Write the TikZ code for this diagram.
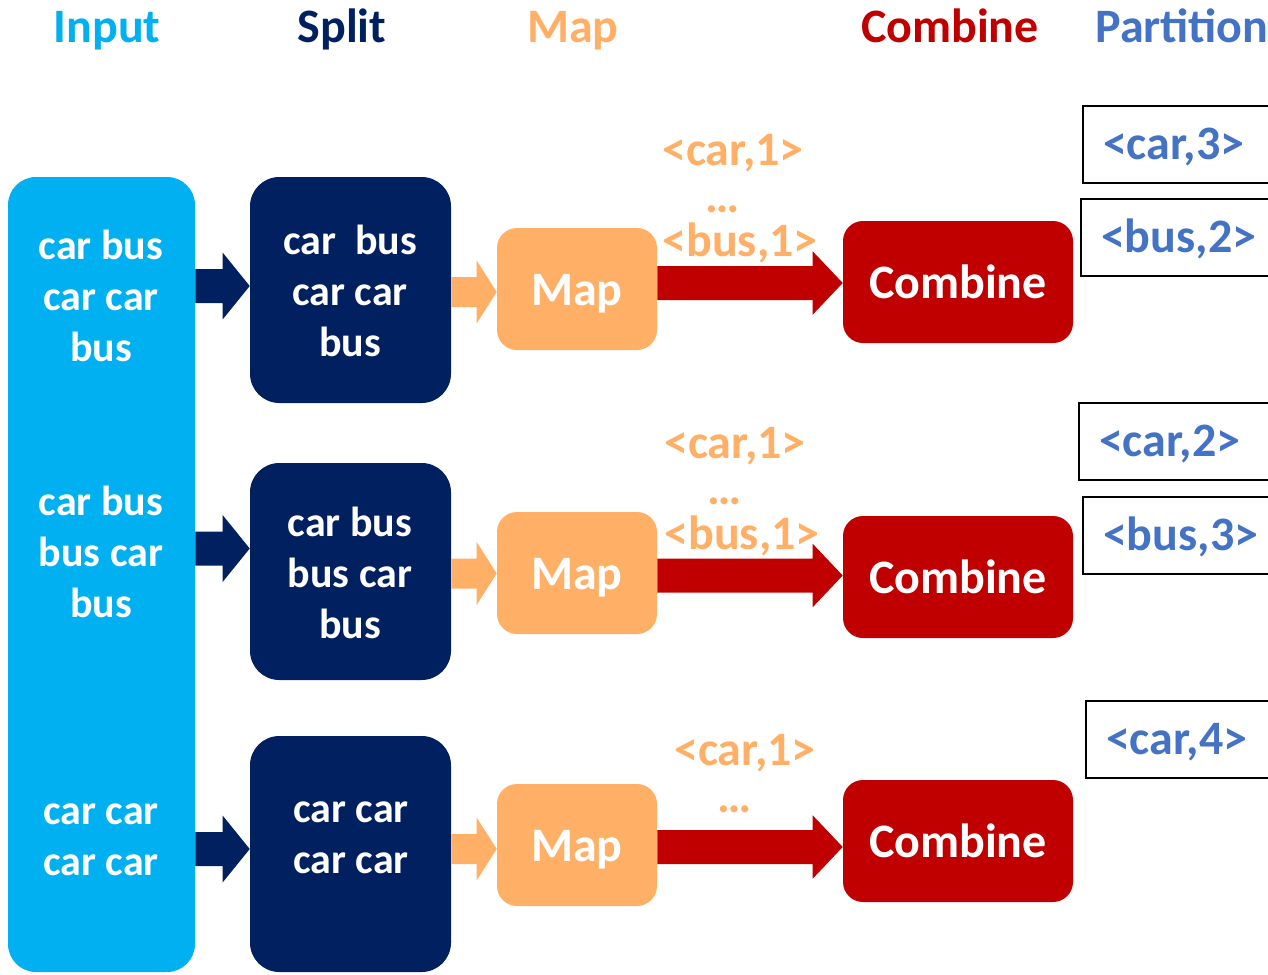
\documentclass[tikz,border=0pt]{standalone}
\usepackage{fontspec}
\setmainfont{Carlito}
\usetikzlibrary{calc}

\definecolor{inputblue}{HTML}{00B0F0}
\definecolor{splitnavy}{HTML}{002060}
\definecolor{maporange}{HTML}{FFB066}
\definecolor{combinered}{HTML}{C00000}
\definecolor{partblue}{HTML}{4472C4}

% block arrow: colour, start point, end point, shaft half width, head half width, head length
\newcommand{\blockarrow}[6]{%
  \fill[#1] let \p1=(#2), \p2=(#3) in
    (\x1,\y1+#4) -- (\x2-#6,\y1+#4) -- (\x2-#6,\y1+#5) -- (\x2,\y1)
    -- (\x2-#6,\y1-#5) -- (\x2-#6,\y1-#4) -- (\x1,\y1-#4) -- cycle;}

\begin{document}
\begin{tikzpicture}[x=0.75pt,y=-0.75pt,
  big/.style={font=\bfseries\fontsize{36}{43}\selectfont},
  small/.style={font=\bfseries\fontsize{31.5}{38.25}\selectfont, align=center, text=white},
  header/.style={big, anchor=base, inner sep=0},
  pair/.style={big, anchor=base, inner sep=0, text=maporange},
  inbox/.style={fill=inputblue, rounded corners=21pt, inner sep=0,
    minimum width=140.25pt},
  splitbox/.style={fill=splitnavy, rounded corners=22pt, inner sep=0,
    minimum width=150.75pt},
  mapbox/.style={fill=maporange, rounded corners=15pt, big, text=white,
    inner sep=0, minimum width=120pt, text height=57.75pt, text depth=33.75pt},
  combox/.style={fill=combinered, rounded corners=15pt, big, text=white,
    inner sep=0, minimum width=172.5pt, text height=57.75pt, text depth=33.75pt},
  pbox/.style={draw=black, line width=1.5pt, anchor=north west, big, text=partblue,
    inner xsep=15pt, inner ysep=0pt, text width=210pt, align=left,
    text height=39.75pt, text depth=18pt}
]
\useasboundingbox (0,0) rectangle (1268,975);
\clip (0,0) rectangle (1268,975);

% column headers
\node[header, text=inputblue]  (hin)  at (107,42)  {Input};
\node[header, text=splitnavy]  (hsp)  at (342,42)  {Split};
\node[header, text=maporange]  (hmap) at (573,42)  {Map};
\node[header, text=combinered] (hcom) at (950,42)  {Combine};
\node[header, text=partblue]   (hpar) at (1182,42) {Partition};

% input column
\node[inbox, minimum height=596.25pt] (in) at (101.5,574.5) {};
\node[small] (in1) at (101,295.5) {car bus\\car car\\bus};
\node[small] (in2) at (101,552)   {car bus\\bus car\\bus};
\node[small] (in3) at (101,839.5) {car car\\car car};

% split column
\node[splitbox, minimum height=169.5pt] (sp1) at (350.5,290)   {};
\node[splitbox, minimum height=162.75pt] (sp2) at (350.5,571.5) {};
\node[splitbox, minimum height=177pt]   (sp3) at (350.5,854)   {};
\node[small] (sp1t) at (350,290.5) {car\ \ bus\\car car\\bus};
\node[small] (sp2t) at (350,573)   {car bus\\bus car\\bus};
\node[small] (sp3t) at (351,837.5) {car car\\car car};

% map column
\node[mapbox] (mp1) at (577,289) {Map};
\node[mapbox] (mp2) at (577,573) {Map};
\node[mapbox] (mp3) at (577,845) {Map};

% combine column
\node[combox] (cb1) at (958,282) {Combine};
\node[combox] (cb2) at (958,577) {Combine};
\node[combox] (cb3) at (958,841) {Combine};

% partition results
\node[pbox] (p1) at (1082,105) {<car,3>};
\node[pbox] (p2) at (1080,198) {<bus,2>};
\node[pbox] (p3) at (1078,402) {<car,2>};
\node[pbox] (p4) at (1082,496) {<bus,3>};
\node[pbox] (p5) at (1085,700) {<car,4>};

% intermediate key/value pairs
\node[pair] (k11) at (733,165) {<car,1>};
\node[pair] (k12) at (723,212) {\ldots};
\node[pair] (k13) at (740,256) {<bus,1>};
\node[pair] (k21) at (735,458) {<car,1>};
\node[pair] (k22) at (725,504) {\ldots};
\node[pair] (k23) at (742,549) {<bus,1>};
\node[pair] (k31) at (745,765) {<car,1>};
\node[pair] (k32) at (735,812) {\ldots};

% row levels of the arrows
\coordinate (ra1) at (0,286);   \coordinate (rb1) at (0,292);   \coordinate (rc1) at (0,283);
\coordinate (ra2) at (0,548.5); \coordinate (rb2) at (0,573.5); \coordinate (rc2) at (0,575.5);
\coordinate (ra3) at (0,849);   \coordinate (rb3) at (0,849);   \coordinate (rc3) at (0,847);

% input -> split
\blockarrow{splitnavy}{in.east |- ra1}{sp1.west |- ra1}{12.75pt}{25pt}{20.25pt}
\blockarrow{splitnavy}{in.east |- ra2}{sp2.west |- ra2}{12.75pt}{25pt}{20.25pt}
\blockarrow{splitnavy}{in.east |- ra3}{sp3.west |- ra3}{12.75pt}{25pt}{20.25pt}

% split -> map
\blockarrow{maporange}{sp1.east |- rb1}{mp1.west |- rb1}{11.25pt}{23.5pt}{15pt}
\blockarrow{maporange}{sp2.east |- rb2}{mp2.west |- rb2}{11.25pt}{23.5pt}{15pt}
\blockarrow{maporange}{sp3.east |- rb3}{mp3.west |- rb3}{11.25pt}{23.5pt}{15pt}

% map -> combine
\blockarrow{combinered}{mp1.east |- rc1}{cb1.west |- rc1}{12.75pt}{23.75pt}{22.5pt}
\blockarrow{combinered}{mp2.east |- rc2}{cb2.west |- rc2}{12.75pt}{23.75pt}{22.5pt}
\blockarrow{combinered}{mp3.east |- rc3}{cb3.west |- rc3}{12.75pt}{23.75pt}{22.5pt}
\end{tikzpicture}
\end{document}
